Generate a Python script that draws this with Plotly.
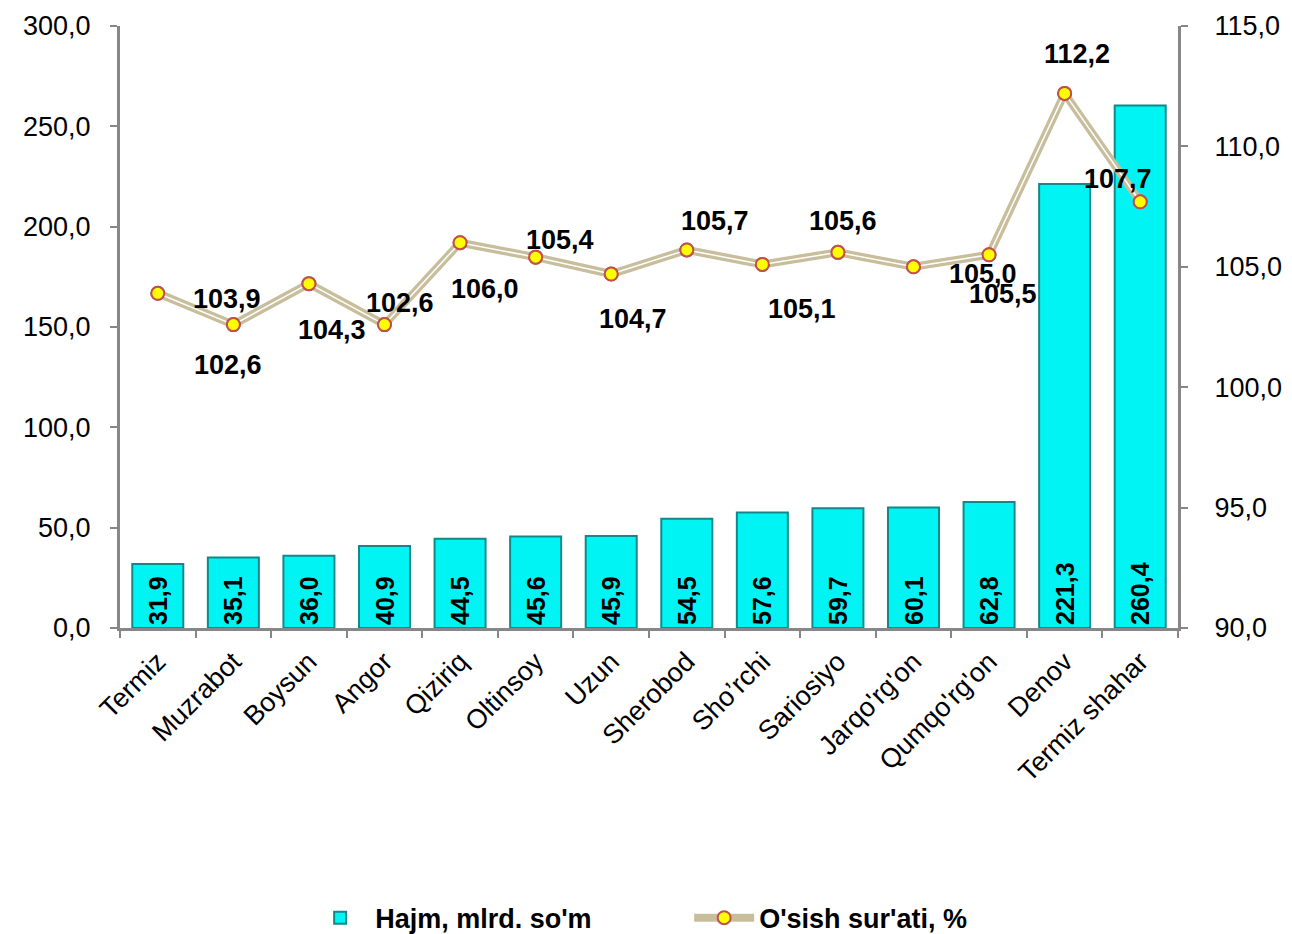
import plotly.graph_objects as go

categories = ["Termiz", "Muzrabot", "Boysun", "Angor", "Qiziriq", "Oltinsoy", "Uzun",
              "Sherobod", "Sho\u2019rchi", "Sariosiyo", "Jarqo'rg'on", "Qumqo'rg'on",
              "Denov", "Termiz shahar"]
volume = [31.9, 35.1, 36.0, 40.9, 44.5, 45.6, 45.9, 54.5, 57.6, 59.7, 60.1, 62.8, 221.3, 260.4]
growth = [103.9, 102.6, 104.3, 102.6, 106.0, 105.4, 104.7, 105.7, 105.1, 105.6, 105.0, 105.5, 112.2, 107.7]

left_ticks = [0, 50, 100, 150, 200, 250, 300]
right_ticks = [90, 95, 100, 105, 110, 115]

# label offsets in pixels (style only)
label_dx = [69, -5, 23, 15, 25, 24, 22, 28, 40, 5, 69, 14, 12, -22]
label_dy = [6, 40, 46, -22, 46, -17, 45, -29, 45, -31, 7, 39, -39, -23]

def fmt(v):
    return f"{v:.1f}".replace(".", ",")

FONT = "Liberation Sans, Arial, sans-serif"
GRAY = "#878787"
MARK = dict(size=13, color="#FFFF00", line=dict(color="#C0504D", width=2))

fig = go.Figure()
fig.add_trace(go.Bar(
    x=categories, y=volume, name="Hajm, mlrd. so'm",
    marker=dict(color="#00F4F4", line=dict(color="#128888", width=2)),
    text=[fmt(v) for v in volume], textposition="inside", insidetextanchor="start",
    textangle=-90, textfont=dict(family=FONT, size=25, color="black", weight="bold"),
    cliponaxis=False, yaxis="y",
))
fig.add_trace(go.Scatter(
    x=categories, y=growth, name="O'sish sur'ati, %", yaxis="y2",
    mode="lines+markers", line=dict(color="#C8BE9C", width=8), marker=MARK,
))
fig.add_trace(go.Scatter(
    x=categories, y=growth, yaxis="y2", mode="lines", showlegend=False,
    line=dict(color="white", width=1.5), hoverinfo="skip",
))
fig.add_trace(go.Scatter(
    x=categories, y=growth, yaxis="y2", mode="markers", showlegend=False, marker=MARK,
))

for c, v, dx, dy in zip(categories, growth, label_dx, label_dy):
    fig.add_annotation(x=c, y=v, xref="x", yref="y2", text=fmt(v), showarrow=False,
                       xshift=dx, yshift=-dy,
                       font=dict(family=FONT, size=27, color="black", weight="bold"))

axis_common = dict(showline=True, linecolor=GRAY, linewidth=3, ticks="outside", ticklen=7,
                   tickcolor=GRAY, tickwidth=2, showgrid=False, zeroline=False,
                   automargin=False, tickfont=dict(family=FONT, size=27, color="black"))

fig.update_layout(
    width=1292, height=934,
    margin=dict(l=112, r=122, t=18, b=314, autoexpand=False),
    paper_bgcolor="white", plot_bgcolor="white",
    font=dict(family=FONT, size=27, color="black"),
    bargap=0.325,
    showlegend=True,
    legend=dict(orientation="h", x=0.175, xanchor="left", y=-0.482, yanchor="middle",
                font=dict(family=FONT, size=27, color="black", weight="bold"),
                itemwidth=60, entrywidthmode="pixels", entrywidth=309,
                bgcolor="rgba(0,0,0,0)"),
    xaxis=dict(**axis_common, range=[-0.5, len(categories) - 0.5], autorange=False,
               tickson="boundaries", tickangle=-45, ticklabelstandoff=4),
    yaxis=dict(**axis_common, range=[0, 300], tickvals=left_ticks,
               ticktext=[fmt(t) for t in left_ticks], ticklabelstandoff=14),
    yaxis2=dict(**axis_common, range=[90, 115], tickvals=right_ticks,
                ticktext=[fmt(t) for t in right_ticks], overlaying="y", side="right",
                ticklabelstandoff=21),
)

fig.write_html("out.html")
